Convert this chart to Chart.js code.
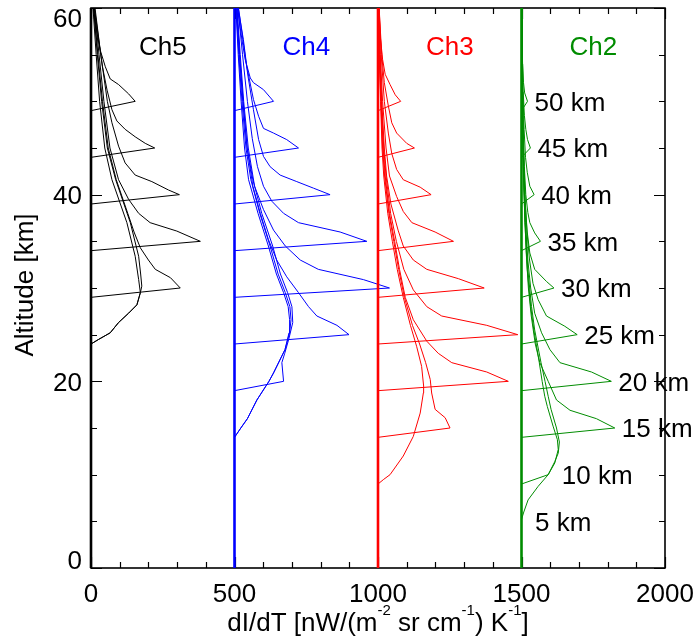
<!DOCTYPE html>
<html><head><meta charset="utf-8">
<script src="https://cdn.jsdelivr.net/npm/chart.js@4"></script>
<style>html,body{margin:0;padding:0;background:#fff;}canvas{display:block;}</style>
</head><body>
<canvas id="c" width="696" height="639"></canvas>
<script>
// ---- data ----
const tangents = [50, 45, 40, 35, 30, 25, 20, 15, 10, 5];
const channelNames = ['Ch5', 'Ch4', 'Ch3', 'Ch2'];
const channelBase = [0, 500, 1000, 1500];
const xTickLabels = [0, 500, 1000, 1500, 2000];
const yTickLabels = [0, 20, 40, 60];
const tangentLabels = ['50 km', '45 km', '40 km', '35 km', '30 km', '25 km', '20 km', '15 km', '10 km', '5 km'];

// each curve: [altitude km, dI/dT] pairs, one per tangent altitude (null = no signal)
const ch5Curves = [
  [[49,0],[50,154],[50.8,131],[51.8,96],[52.4,67],[53.7,50],[55.5,32],[57.3,21],[60,8]],
  [[44,0],[45,222],[45.5,189],[46.2,154],[47,119],[47.9,90],[49.1,73],[51.2,56],[53.7,40],[56.6,27],[60,12]],
  [[39,0],[40,308],[40.5,270],[41.4,212],[42.1,154],[43.4,119],[45.2,96],[47.7,73],[50,57],[55,34],[60,14]],
  [[34,0],[35,381],[36.1,299],[37,206],[38,166],[39.5,131],[41.6,96],[45,66],[50,45],[55,28],[60,12]],
  [[29,0],[30,311],[31.1,277],[32,224],[33,200],[34.3,172],[36,150],[38,128],[41.6,88],[45,60],[50,40],[55,24],[60,10]],
  [[24,0],[24.5,27],[25.2,67],[26.3,96],[27.3,131],[28.2,160],[29.5,172],[30.2,177],[31.5,173],[33.4,166],[37,137],[41.6,86],[45,57],[50,37],[55,22],[60,9]],
  [[24,0],[24.5,27],[25.2,67],[26.3,96],[27.3,131],[28.2,160],[29.5,172],[30.9,166],[33.4,154],[37,125],[41.6,73],[45,48],[50,30],[55,18],[60,7]],
  null, null, null
];
const ch4Curves = [
  [[49,0],[50,136],[51.25,101],[52,66],[52.5,55],[54.5,37],[56.6,26],[60,10]],
  [[44,0],[45,223],[45.9,182],[46.6,136],[47.1,101],[48.4,84],[50.2,66],[53.7,43],[56.6,31],[60,13]],
  [[39,0],[40,333],[40.7,275],[41.4,217],[42.1,159],[43,124],[44.1,101],[45.9,84],[49.1,66],[52.7,47],[56,32],[60,14]],
  [[34,0],[35,461],[36,368],[37,223],[38,171],[39.3,130],[40.9,101],[43,80],[46,62],[50,45],[55,28],[60,12]],
  [[29,0],[30,540],[30.9,449],[32,292],[33,229],[34.5,177],[36.2,136],[38.4,101],[40.9,70],[45,48],[50,32],[55,20],[60,9]],
  [[24,0],[25,399],[26,357],[27,287],[28,258],[29.5,223],[31.2,182],[33,147],[35.2,118],[38,90],[40.9,64],[45,44],[50,30],[55,18],[60,8]],
  [[19,0],[20,171],[21,168],[22,165],[23,175],[24.5,189],[26.3,203],[28,200],[29.5,185],[31.5,160],[34.5,133],[38,95],[41.6,64],[45,44],[50,29],[55,17],[60,7]],
  [[14,0],[15,22],[16,45],[18,78],[20,120],[20.9,136],[23.4,176],[25.2,192],[26.6,197],[28,193],[29.5,177],[31.5,152],[34.5,124],[38,88],[41.6,57],[45,40],[50,26],[55,15],[60,6]],
  [[14,0],[15,22],[16,45],[18,78],[20,120],[20.9,136],[23.4,176],[25.2,190],[26.6,192],[28,187],[29.5,171],[31.5,146],[34.5,118],[38,82],[41.6,49],[45,35],[50,23],[55,13],[60,5]],
  null
];
const ch3Curves = [
  [[49,0],[50,79],[50.7,60],[51.8,42],[52.9,25],[54.5,16],[57,8],[60,3]],
  [[44,0],[45,127],[45.5,100],[46.6,65],[47.7,48],[49.5,36],[52,22],[55,13],[60,4]],
  [[39,0],[40,185],[40.8,147],[41.6,88],[42.7,65],[44.4,48],[46.6,36],[50,22],[55,11],[60,4]],
  [[34,0],[35,263],[36,199],[37,118],[38.2,88],[39.8,65],[42,40],[45,28],[50,16],[55,8],[60,3]],
  [[29,0],[30,370],[31,280],[32,170],[33,123],[34.5,88],[36.2,70],[39,45],[42,30],[45,22],[50,13],[55,7],[60,3]],
  [[24,0],[25,487],[26,379],[27,222],[28,170],[29.8,123],[32,90],[35,64],[38,44],[42,28],[45,20],[50,12],[55,6],[60,2]],
  [[19,0],[20,454],[21,379],[22,257],[23,210],[24.3,170],[26.6,123],[29,95],[32,75],[35,58],[38,40],[42,25],[45,18],[50,11],[55,6],[60,2]],
  [[14,0],[15,251],[16.1,234],[17,199],[18.75,187],[20.2,182],[22,166],[24,145],[26,120],[29,92],[32,72],[35,55],[38,38],[42,23],[45,16],[50,10],[55,5],[60,2]],
  [[9,0],[9.5,20],[10,42],[12,88],[14.1,123],[16.6,147],[18.75,158],[19.5,159],[21.6,152],[23.7,135],[26,113],[29,88],[32,67],[35,50],[38,34],[42,20],[45,14],[50,9],[55,4],[60,1]],
  null
];
const ch2Curves = [
  [[49,0],[50,21],[50.9,11],[52,7],[54,4],[57,2],[60,1]],
  [[44,0],[45,31],[45.9,21],[47,15],[48.5,10],[51,6],[55,3],[60,1]],
  [[39,0],[40,44],[40.9,29],[42.4,20],[44,14],[47,9],[51,5],[55,3],[60,1]],
  [[34,0],[35,66],[35.9,46],[37,29],[38.1,22],[40,15],[43,10],[47,6],[52,3],[60,1]],
  [[29,0],[30,113],[30.7,87],[32,46],[33.75,29],[36,20],[39,13],[43,8],[48,5],[53,3],[60,1]],
  [[24,0],[25,194],[25.9,151],[27,87],[28.75,58],[30.5,40],[33,28],[36,19],[40,12],[45,7],[50,4],[55,2],[60,1]],
  [[19,0],[20,313],[21,244],[22,134],[23.4,99],[25.2,70],[27.3,46],[30,32],[33,22],[37,14],[42,8],[48,4],[55,2],[60,1]],
  [[14,0],[15,325],[16,261],[16.9,169],[18,122],[20,93],[22,64],[24,48],[27,34],[30,24],[34,16],[39,10],[45,5],[52,2],[60,1]],
  [[9,0],[10,93],[11.25,116],[12.7,128],[13.75,125],[15.2,110],[17.3,90],[18.4,81],[20,72],[22,62],[25.5,43],[28,32],[32,20],[37,12],[43,6],[50,3],[60,1]],
  [[5.2,0],[6,8],[7.3,23],[8.75,58],[10,93],[11.4,116],[12.3,128],[13.5,132],[15,122],[17,103],[18.4,93],[20,82],[22,68],[25.5,46],[28,35],[32,22],[37,13],[43,7],[50,3],[60,1]]
];

// ---- styling ----
const channelCurves = [ch5Curves, ch4Curves, ch3Curves, ch2Curves];
const channelColors = ['#000000', '#0000ff', '#ff0000', '#008c00'];
const FONT = '"Liberation Sans", Arial, Helvetica, sans-serif';
const FS = 26;
const CAP = 0.716 * FS;

const datasets = [];
channelCurves.forEach((curves, ci) => {
  const base = channelBase[ci];
  const color = channelColors[ci];
  const order = 4 - ci;
  datasets.push({
    data: [{x: base, y: 0}, {x: base, y: 60}],
    borderColor: color, borderWidth: 2.6, order: order
  });
  curves.forEach(curve => {
    if (!curve) return;
    datasets.push({
      data: curve.map(p => ({x: base + p[1], y: p[0]})),
      borderColor: color, borderWidth: 1, order: order
    });
  });
});

const framePlugin = {
  id: 'frame',
  beforeDatasetsDraw(chart) {
    const ctx = chart.ctx, a = chart.chartArea, xs = chart.scales.x, ys = chart.scales.y;
    ctx.save();
    ctx.strokeStyle = '#000';
    ctx.lineWidth = 1.2;
    ctx.beginPath();
    for (let v = 0; v <= 2000; v += 100) {
      const px = Math.round(xs.getPixelForValue(v)) + 0.5;
      const len = v % 500 === 0 ? 11 : 6;
      ctx.moveTo(px, a.bottom); ctx.lineTo(px, a.bottom - len);
      ctx.moveTo(px, a.top); ctx.lineTo(px, a.top + len);
    }
    for (let v = 0; v <= 60; v += 5) {
      const py = Math.round(ys.getPixelForValue(v)) + 0.5;
      const len = v % 20 === 0 ? 11 : 6;
      ctx.moveTo(a.left, py); ctx.lineTo(a.left + len, py);
      ctx.moveTo(a.right, py); ctx.lineTo(a.right - len, py);
    }
    ctx.stroke();
    ctx.lineWidth = 1.6;
    ctx.strokeRect(a.left, a.top, a.right - a.left, a.bottom - a.top);
    ctx.restore();
  },
  afterDraw(chart) {
    const ctx = chart.ctx, a = chart.chartArea, xs = chart.scales.x, ys = chart.scales.y;
    ctx.save();
    ctx.fillStyle = '#000';
    ctx.font = FS + 'px ' + FONT;
    ctx.textBaseline = 'alphabetic';
    // x tick labels
    ctx.textAlign = 'center';
    xTickLabels.forEach(v => ctx.fillText(String(v), xs.getPixelForValue(v), a.bottom + 34));
    // y tick labels
    ctx.textAlign = 'right';
    yTickLabels.forEach(v => {
      let b = ys.getPixelForValue(v) + CAP / 2;
      b = Math.max(b, a.top + CAP);
      b = Math.min(b, a.bottom + 1);
      ctx.fillText(String(v), a.left - 9, b);
    });
    // channel titles
    ctx.textAlign = 'center';
    channelNames.forEach((n, ci) => {
      ctx.fillStyle = channelColors[ci];
      ctx.fillText(n, xs.getPixelForValue(channelBase[ci] + 250), ys.getPixelForValue(56) + CAP / 2);
    });
    // tangent labels next to Ch2 curves
    ctx.fillStyle = '#000';
    ctx.textAlign = 'left';
    tangents.forEach((h, ti) => {
      const curve = ch2Curves[ti];
      let m = 0;
      curve.forEach(p => { if (p[0] >= h - 1.5 && p[0] <= h + 2.5) m = Math.max(m, p[1]); });
      ctx.fillText(tangentLabels[ti], xs.getPixelForValue(channelBase[3] + m) + 7, ys.getPixelForValue(h) + CAP / 2);
    });
    // x title with superscripts
    const parts = [['dI/dT [nW/(m', 0], ['-2', 1], [' sr cm', 0], ['-1', 1], [') K', 0], ['-1', 1], [']', 0]];
    const SUP = 15;
    let total = 0;
    parts.forEach(p => { ctx.font = (p[1] ? SUP : FS) + 'px ' + FONT; total += ctx.measureText(p[0]).width; });
    let x = (a.left + a.right) / 2 - total / 2;
    const by = a.bottom + 63;
    parts.forEach(p => {
      ctx.font = (p[1] ? SUP : FS) + 'px ' + FONT;
      ctx.fillText(p[0], x, p[1] ? by - 16 : by);
      x += ctx.measureText(p[0]).width;
    });
    // y title
    ctx.font = FS + 'px ' + FONT;
    ctx.translate(33, (a.top + a.bottom) / 2 - 3);
    ctx.rotate(-Math.PI / 2);
    ctx.textAlign = 'center';
    ctx.fillText('Altitude [km]', 0, 0);
    ctx.restore();
  }
};

new Chart(document.getElementById('c'), {
  type: 'scatter',
  data: {datasets: datasets},
  options: {
    responsive: false,
    devicePixelRatio: 1,
    animation: false,
    events: [],
    showLine: true,
    clip: false,
    elements: {point: {radius: 0}, line: {tension: 0, fill: false}},
    layout: {padding: {left: 91, right: 31, top: 8, bottom: 71}},
    scales: {
      x: {type: 'linear', min: 0, max: 2000, display: false},
      y: {type: 'linear', min: 0, max: 60, display: false}
    },
    plugins: {legend: {display: false}, tooltip: {enabled: false}}
  },
  plugins: [framePlugin]
});
</script>
</body></html>
